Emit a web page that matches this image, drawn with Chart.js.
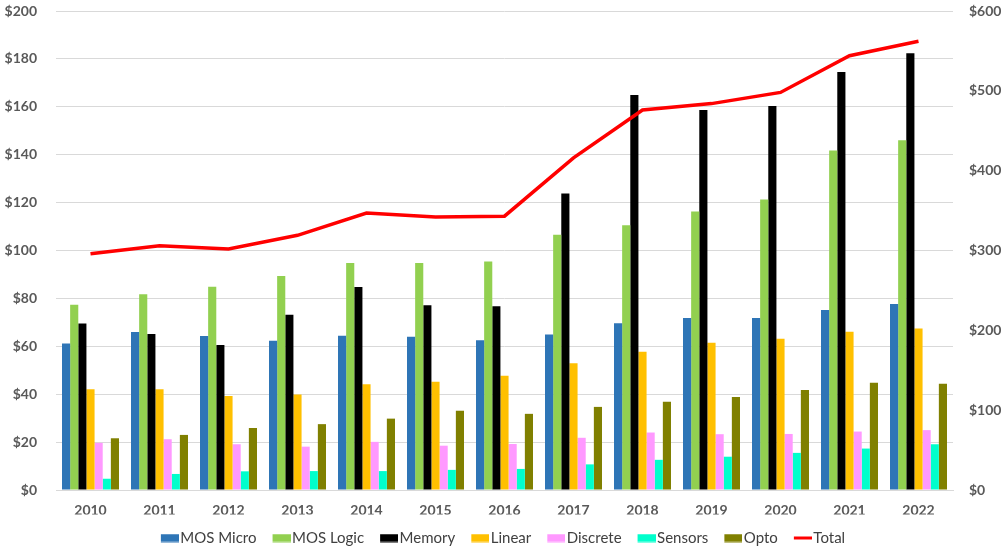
<!DOCTYPE html>
<html>
<head>
<meta charset="utf-8">
<script src="https://cdn.jsdelivr.net/npm/chart.js@4.4.0/dist/chart.umd.min.js"></script>
<style>
html,body{margin:0;padding:0;background:#fff;}
#wrap{width:1006px;height:550px;position:relative;}
</style>
</head>
<body>
<div id="wrap"><canvas id="c"></canvas></div>
<script>
const years = ['2010','2011','2012','2013','2014','2015','2016','2017','2018','2019','2020','2021','2022'];
const mosMicro = [61.2, 66.0, 64.3, 62.3, 64.4, 64.0, 62.5, 64.9, 69.6, 71.8, 71.8, 75.2, 77.7];
const mosLogic = [77.4, 81.7, 84.9, 89.4, 94.8, 94.8, 95.4, 106.6, 110.5, 116.3, 121.3, 141.8, 146.0];
const memory = [69.5, 65.1, 60.5, 73.2, 84.8, 77.1, 76.7, 123.8, 164.9, 158.7, 160.3, 174.5, 182.4];
const linear = [42.1, 42.1, 39.2, 39.9, 44.2, 45.2, 47.7, 52.9, 57.7, 61.5, 63.2, 66.1, 67.4];
const discrete = [19.7, 21.2, 19.1, 18.1, 20.1, 18.5, 19.2, 21.8, 24.0, 23.3, 23.4, 24.4, 25.0];
const sensors = [4.7, 6.7, 7.8, 7.9, 7.9, 8.4, 8.8, 10.7, 12.6, 13.9, 15.5, 17.3, 19.1];
const opto = [21.6, 23.0, 25.9, 27.5, 29.8, 33.1, 31.8, 34.7, 36.8, 38.8, 41.8, 44.8, 44.4];
const total = [296, 306, 302, 319, 347, 342, 343, 416, 476, 484, 498, 544, 562];
const leftTicks = [0, 20, 40, 60, 80, 100, 120, 140, 160, 180, 200];
const rightTicks = [0, 100, 200, 300, 400, 500, 600];

const seriesNames = ['MOS Micro','MOS Logic','Memory','Linear','Discrete','Sensors','Opto','Total'];
const seriesColors = ['#2E75B6','#92D050','#000000','#FFC000','#FF99FF','#00FFCC','#808000','#FF0000'];

const P = 12;
function swatch(color, isLine) {
  const cv = document.createElement('canvas');
  const C = P + 12;
  cv.width = C; cv.height = 9;
  const g = cv.getContext('2d');
  g.fillStyle = color;
  if (isLine) {
    g.fillRect(P - 6, 3, 19, 3);
  } else {
    g.fillRect(P - 6, 0.5, 18, 8);
  }
  return cv;
}
const swatches = seriesColors.map((c, i) => swatch(c, i === 7));

const barData = [mosMicro, mosLogic, memory, linear, discrete, sensors, opto];
const datasets = barData.map((d, i) => ({
  type: 'bar',
  label: seriesNames[i],
  data: d,
  backgroundColor: seriesColors[i],
  borderWidth: 0,
  yAxisID: 'y',
  order: 1,
  barPercentage: 1.0,
  categoryPercentage: 0.826
}));
datasets.push({
  type: 'line',
  label: seriesNames[7],
  data: total,
  borderColor: '#FF0000',
  backgroundColor: '#FF0000',
  borderWidth: 3.5,
  pointRadius: 0,
  tension: 0,
  fill: false,
  yAxisID: 'y1',
  order: 0
});

const tickFont = {family: 'Lato', size: 14, weight: 'bold'};

new Chart(document.getElementById('c'), {
  data: {labels: years, datasets},
  options: {
    responsive: true,
    maintainAspectRatio: false,
    animation: false,
    layout: {padding: {top: 11, left: 0, right: 0, bottom: -5.5}},
    plugins: {
      tooltip: {enabled: false},
      legend: {
        position: 'bottom',
        labels: {
          usePointStyle: true,
          pointStyleWidth: P,
          boxHeight: 9,
          padding: 16,
          color: '#404040',
          font: {family: 'Lato', size: 15},
          sort: (a, b) => a.datasetIndex - b.datasetIndex,
          generateLabels: (chart) => {
            const items = Chart.defaults.plugins.legend.labels.generateLabels(chart);
            items.forEach(it => { it.pointStyle = swatches[it.datasetIndex]; it.lineWidth = 0; });
            return items;
          }
        }
      }
    },
    scales: {
      x: {
        afterFit: (s) => { s.height = 24.5; },
        grid: {display: false, drawTicks: false},
        border: {display: true, color: '#D9D9D9', width: 1},
        ticks: {color: '#595959', font: tickFont, padding: 12}
      },
      y: {
        position: 'left',
        min: 0, max: 200,
        afterBuildTicks: (s) => { s.ticks = leftTicks.map(v => ({value: v})); },
        afterFit: (s) => { s.width = 56; },
        grid: {color: '#D9D9D9', lineWidth: 1, drawTicks: true, tickLength: 19, tickColor: 'rgba(0,0,0,0)'},
        border: {display: false},
        ticks: {color: '#595959', font: tickFont, padding: 0, callback: v => '$' + v}
      },
      y1: {
        position: 'right',
        min: 0, max: 600,
        afterBuildTicks: (s) => { s.ticks = rightTicks.map(v => ({value: v})); },
        afterFit: (s) => { s.width = 53; },
        grid: {display: true, drawOnChartArea: false, drawTicks: true, tickLength: 16, color: 'rgba(0,0,0,0)', tickColor: 'rgba(0,0,0,0)'},
        border: {display: false},
        ticks: {color: '#595959', font: tickFont, padding: 0, callback: v => '$' + v}
      }
    }
  }
});
</script>
</body>
</html>
